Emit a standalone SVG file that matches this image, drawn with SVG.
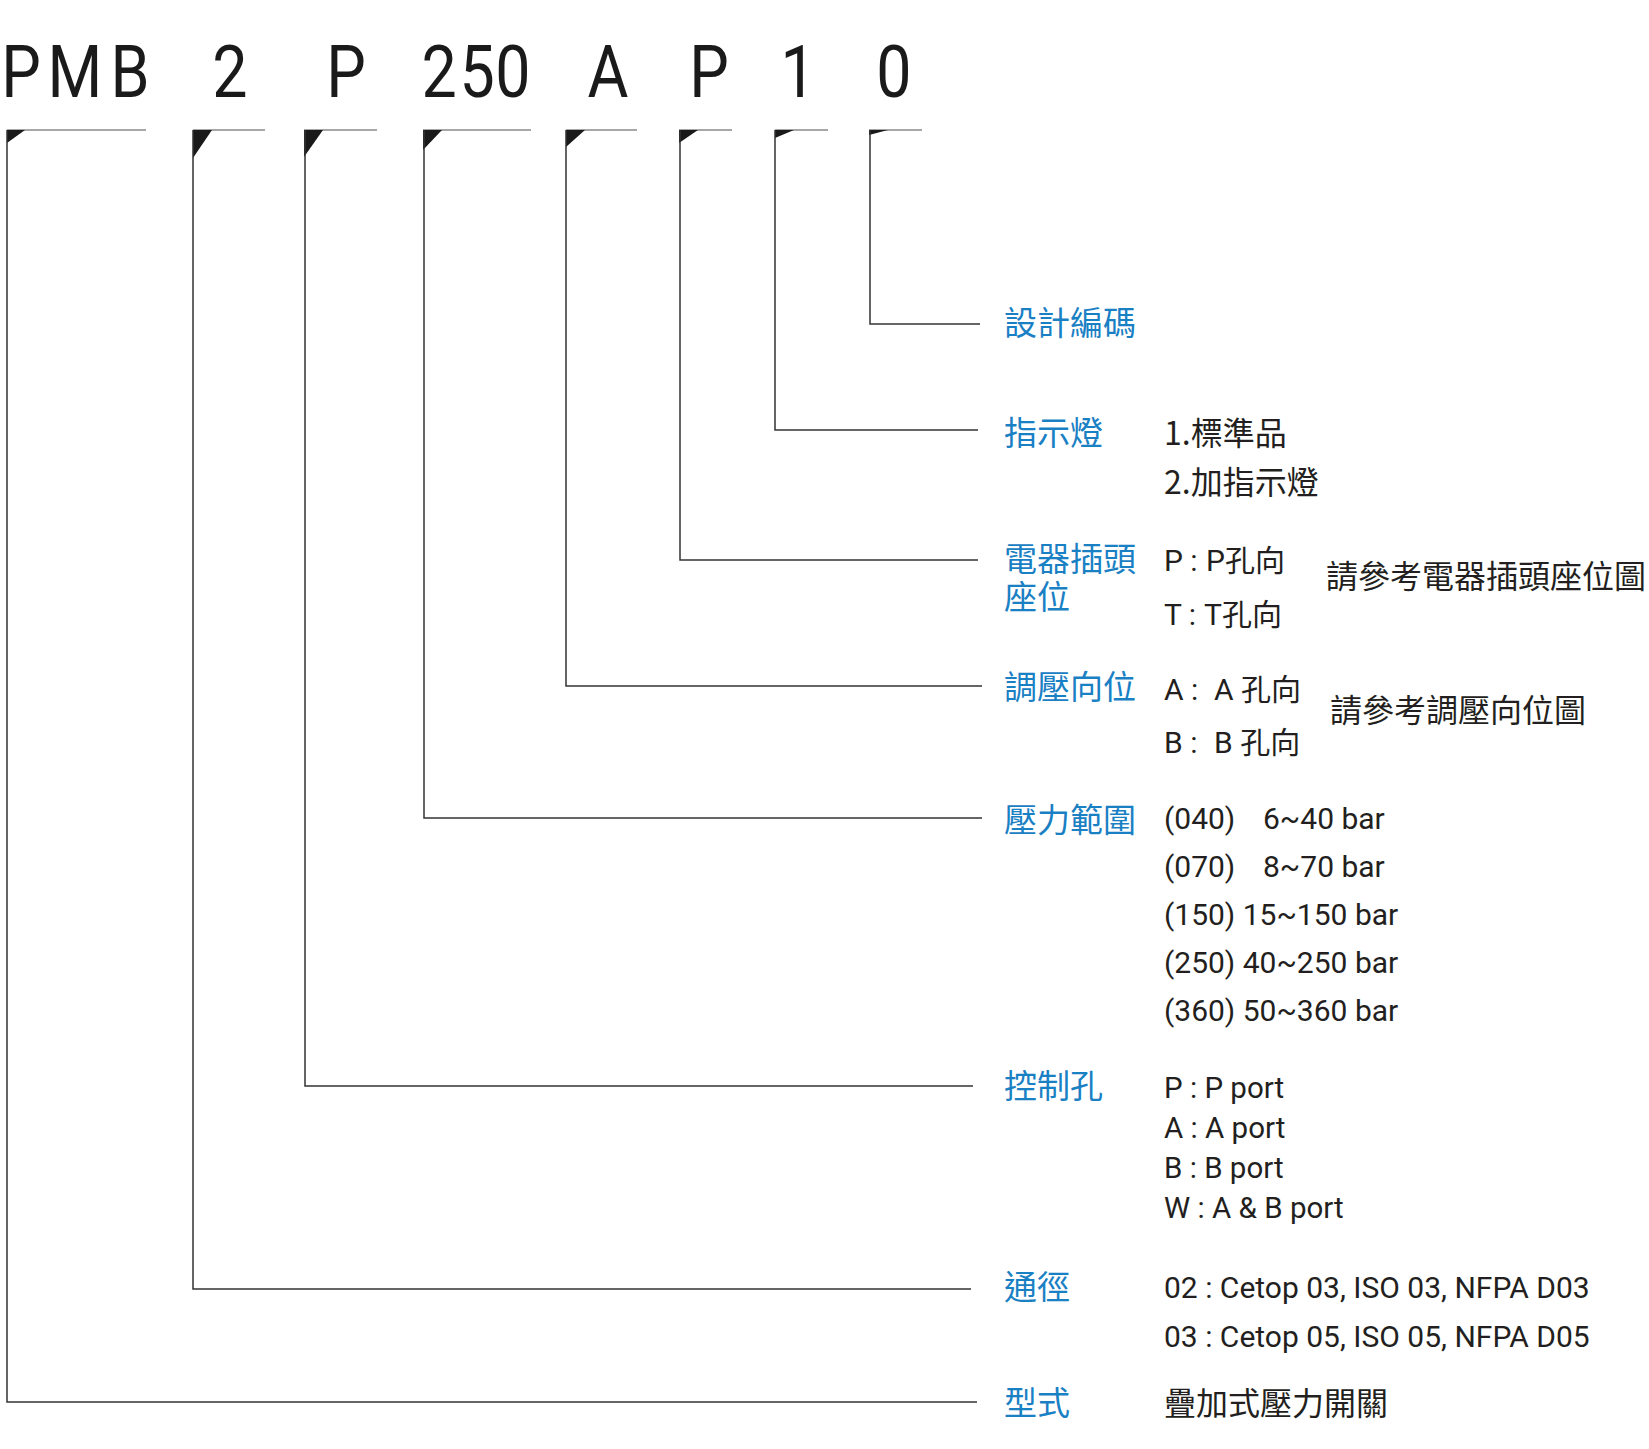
<svg xmlns="http://www.w3.org/2000/svg" width="1649" height="1449" viewBox="0 0 1649 1449">
<style>
.code{font-family:Roboto,'Liberation Sans',sans-serif;font-size:73px;fill:#1a1a1a;text-anchor:middle}
.bar{stroke:#8a8a8a;stroke-width:1.6;fill:none}
.tri{fill:#1a1a1a}
.conn{stroke:#333;stroke-width:1.5;fill:none}
.lbl{font-family:'Noto Sans CJK TC','Noto Sans CJK SC',sans-serif;font-size:33px;fill:#1a80c4}
.val{font-family:Roboto,'Noto Sans CJK TC',sans-serif;font-size:30px;fill:#231f20}
.port{font-family:Roboto,'Noto Sans CJK TC',sans-serif;font-size:29.5px;fill:#231f20}
.cjk{font-family:'Noto Sans CJK TC','Noto Sans CJK SC',sans-serif;font-size:32px;fill:#231f20}
</style>
<rect width="1649" height="1449" fill="#fff"/>

<g id="code">
  <g id="seg-pmb">
    <text class="code" y="97" transform="scale(0.86,1)"><tspan x="24.4">P</tspan><tspan x="87.2">M</tspan><tspan x="151.2">B</tspan></text>
    <path class="bar" d="M7 130H146"/>
    <polygon class="tri" points="7,130 25,130 7,143"/>
  </g>
  <g id="seg-2">
    <text class="code" x="267.4" y="97" transform="scale(0.86,1)">2</text>
    <path class="bar" d="M193 130H265"/>
    <polygon class="tri" points="193,130 212,130 193,158"/>
  </g>
  <g id="seg-p1">
    <text class="code" x="402.3" y="97" transform="scale(0.86,1)">P</text>
    <path class="bar" d="M304 130H377"/>
    <polygon class="tri" points="304,130 323,130 304,157"/>
  </g>
  <g id="seg-250">
    <text class="code" y="97" transform="scale(0.86,1)"><tspan x="510.5">2</tspan><tspan x="554.7">5</tspan><tspan x="596.5">0</tspan></text>
    <path class="bar" d="M423 130H531"/>
    <polygon class="tri" points="423,130 442,130 423,150"/>
  </g>
  <g id="seg-a">
    <text class="code" x="707" y="97" transform="scale(0.86,1)">A</text>
    <path class="bar" d="M566 130H637"/>
    <polygon class="tri" points="566,130 585,130 566,147"/>
  </g>
  <g id="seg-p2">
    <text class="code" x="824.4" y="97" transform="scale(0.86,1)">P</text>
    <path class="bar" d="M679 130H732"/>
    <polygon class="tri" points="679,130 698,130 679,143"/>
  </g>
  <g id="seg-1">
    <text class="code" x="928" y="97" transform="scale(0.86,1)">1</text>
    <path class="bar" d="M775 130H828"/>
    <polygon class="tri" points="775,130 794,130 775,138"/>
  </g>
  <g id="seg-0">
    <text class="code" x="1039.5" y="97" transform="scale(0.86,1)">0</text>
    <path class="bar" d="M869 130H922"/>
    <polygon class="tri" points="869,130 888,130 869,135"/>
  </g>
</g>

<g id="connectors">
  <path class="conn" d="M870 130V324H980"/>
  <path class="conn" d="M775 130V430H978"/>
  <path class="conn" d="M680 130V560H978"/>
  <path class="conn" d="M566 130V686H982"/>
  <path class="conn" d="M424 130V818H982"/>
  <path class="conn" d="M305 130V1086H973"/>
  <path class="conn" d="M193 130V1289H971"/>
  <path class="conn" d="M7 130V1402H977"/>
</g>

<g id="design-code">
  <text class="lbl" x="1004" y="335">設計編碼</text>
</g>

<g id="indicator">
  <text class="lbl" x="1004" y="445">指示燈</text>
  <text class="cjk" x="1164" y="445">1.標準品</text>
  <text class="cjk" x="1164" y="494">2.加指示燈</text>
</g>

<g id="plug-position">
  <text class="lbl"><tspan x="1004" y="571">電器插頭</tspan><tspan x="1004" y="609">座位</tspan></text>
  <text class="val" y="571"><tspan x="1164">P :</tspan><tspan x="1206">P孔向</tspan></text>
  <text class="val" y="625"><tspan x="1164">T :</tspan><tspan x="1204">T孔向</tspan></text>
  <text class="cjk" x="1326" y="588">請參考電器插頭座位圖</text>
</g>

<g id="adjust-position">
  <text class="lbl" x="1004" y="699">調壓向位</text>
  <text class="val" y="700"><tspan x="1164">A :</tspan><tspan x="1214">A 孔向</tspan></text>
  <text class="val" y="753"><tspan x="1164">B :</tspan><tspan x="1214">B 孔向</tspan></text>
  <text class="cjk" x="1330" y="722">請參考調壓向位圖</text>
</g>

<g id="pressure-range">
  <text class="lbl" x="1004" y="832">壓力範圍</text>
  <text class="val" y="829"><tspan x="1164">(040)</tspan><tspan x="1263">6~40 bar</tspan></text>
  <text class="val" y="877"><tspan x="1164">(070)</tspan><tspan x="1263">8~70 bar</tspan></text>
  <text class="val" x="1164" y="925">(150) 15~150 bar</text>
  <text class="val" x="1164" y="973">(250) 40~250 bar</text>
  <text class="val" x="1164" y="1021">(360) 50~360 bar</text>
</g>

<g id="control-port">
  <text class="lbl" x="1004" y="1098">控制孔</text>
  <text class="port" x="1164" y="1098">P : P port</text>
  <text class="port" x="1164" y="1138">A : A port</text>
  <text class="port" x="1164" y="1178">B : B port</text>
  <text class="port" x="1164" y="1218">W : A &amp; B port</text>
</g>

<g id="bore">
  <text class="lbl" x="1004" y="1299">通徑</text>
  <text class="val" x="1164" y="1298">02 : Cetop 03, ISO 03, NFPA D03</text>
  <text class="val" x="1164" y="1347">03 : Cetop 05, ISO 05, NFPA D05</text>
</g>

<g id="type">
  <text class="lbl" x="1004" y="1415">型式</text>
  <text class="cjk" x="1164" y="1415">疊加式壓力開關</text>
</g>
</svg>
